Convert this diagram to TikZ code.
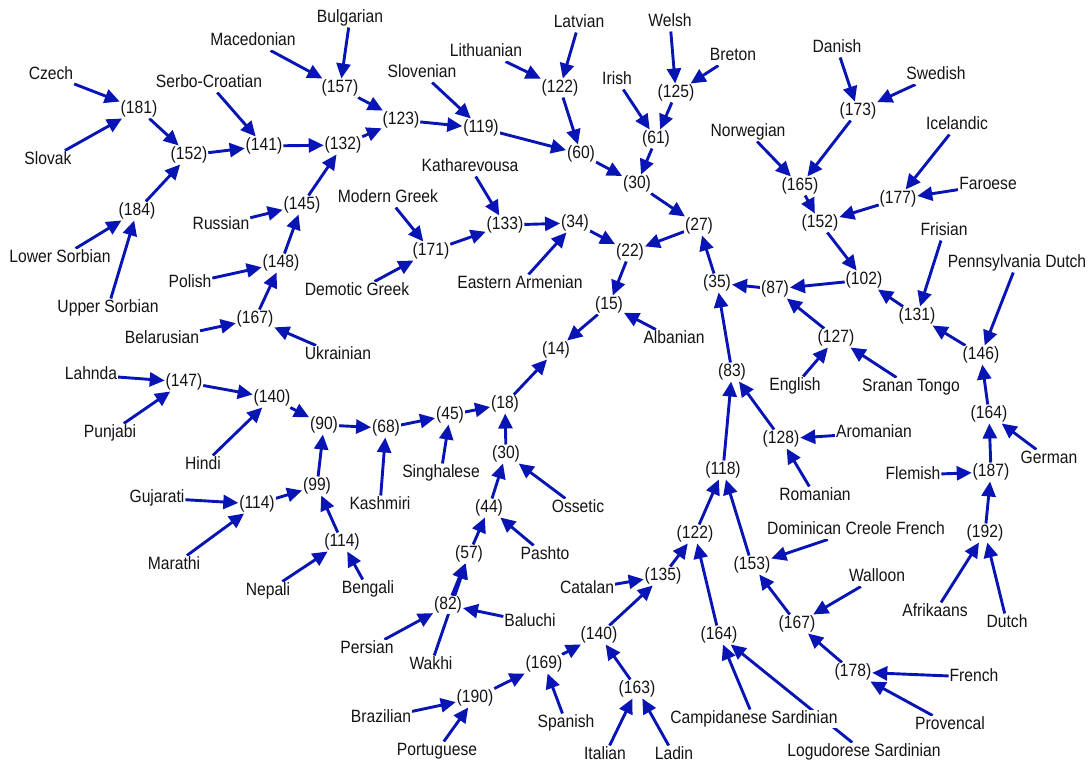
\documentclass[tikz,border=0pt]{standalone}
\usepackage{fontspec}
\setmainfont{Liberation Sans}[FakeStretch=0.88]
\usetikzlibrary{arrows.meta,backgrounds}
\definecolor{ablue}{RGB}{8,20,180}
\definecolor{ltext}{RGB}{20,20,20}
\newcommand\lblfont{\fontsize{17.8}{19}\selectfont}
\tikzset{
  lbl/.style={font=\lblfont, text=ltext, inner sep=0.8pt, fill=white, text height=13pt, text depth=4pt, yshift=-2pt},
  conn/.style={draw=ablue, line width=2.9pt, -{Triangle[length=15pt,width=14pt]}}
}
\begin{document}
\begin{tikzpicture}[x=1pt,y=-1pt]
\useasboundingbox (0,0) rectangle (1092,762);
% Slavic, Baltic, Celtic, Greek
\node[lbl] (cz) at (51,73) {Czech};
\node[lbl] (sk) at (48,158) {Slovak};
\node[lbl] (n181) at (139,107) {(181)};
\node[lbl] (n152a) at (189,153) {(152)};
\node[lbl] (n184) at (137,209) {(184)};
\node[lbl] (lso) at (60,256) {Lower Sorbian};
\node[lbl] (uso) at (108,306) {Upper Sorbian};
\node[lbl] (sc) at (209,81) {Serbo-Croatian};
\node[lbl] (n141) at (264,144) {(141)};
\node[lbl] (n132) at (343,143) {(132)};
\node[lbl] (mk) at (253,39) {Macedonian};
\node[lbl] (bg) at (350,16) {Bulgarian};
\node[lbl] (n157) at (340,86) {(157)};
\node[lbl] (n123) at (401,118) {(123)};
\node[lbl] (sl) at (422,71) {Slovenian};
\node[lbl] (n119) at (481,126) {(119)};
\node[lbl] (lt) at (486,50) {Lithuanian};
\node[lbl] (lv) at (579,21) {Latvian};
\node[lbl] (n122a) at (560,86) {(122)};
\node[lbl] (n60) at (581,152) {(60)};
\node[lbl] (ga) at (617,78) {Irish};
\node[lbl] (cy) at (670,20) {Welsh};
\node[lbl] (br) at (733,54) {Breton};
\node[lbl] (n125) at (676,91) {(125)};
\node[lbl] (n61) at (656,137) {(61)};
\node[lbl] (n30a) at (637,182) {(30)};
\node[lbl] (n27) at (699,224) {(27)};
\node[lbl] (ru) at (221,223) {Russian};
\node[lbl] (n145) at (302,203) {(145)};
\node[lbl] (pl) at (190,281) {Polish};
\node[lbl] (n148) at (281,261) {(148)};
\node[lbl] (be) at (162,337) {Belarusian};
\node[lbl] (n167a) at (255,317) {(167)};
\node[lbl] (uk) at (338,353) {Ukrainian};
\node[lbl] (mg) at (388,196) {Modern Greek};
\node[lbl] (kat) at (470,165) {Katharevousa};
\node[lbl] (n171) at (431,249) {(171)};
\node[lbl] (dg) at (357,289) {Demotic Greek};
\node[lbl] (n133) at (505,223) {(133)};
\node[lbl] (n34) at (575,221) {(34)};
\node[lbl] (ea) at (520,282) {Eastern Armenian};
\node[lbl] (n22) at (630,250) {(22)};
\node[lbl] (n15) at (609,303) {(15)};
\node[lbl] (sq) at (674,337) {Albanian};
\node[lbl] (n14) at (556,348) {(14)};
% Indo-Iranian
\node[lbl] (lah) at (91,373) {Lahnda};
\node[lbl] (n147) at (184,380) {(147)};
\node[lbl] (pa) at (110,431) {Punjabi};
\node[lbl] (n140a) at (272,396) {(140)};
\node[lbl] (hi) at (203,463) {Hindi};
\node[lbl] (n90) at (324,423) {(90)};
\node[lbl] (n99) at (317,484) {(99)};
\node[lbl] (gu) at (157,496) {Gujarati};
\node[lbl] (n114a) at (257,502) {(114)};
\node[lbl] (mr) at (174,563) {Marathi};
\node[lbl] (n114b) at (342,540) {(114)};
\node[lbl] (ne) at (268,589) {Nepali};
\node[lbl] (bn) at (368,587) {Bengali};
\node[lbl] (ks) at (380,503) {Kashmiri};
\node[lbl] (n68) at (386,426) {(68)};
\node[lbl] (n45) at (450,413) {(45)};
\node[lbl] (si) at (441,471) {Singhalese};
\node[lbl] (n18) at (505,402) {(18)};
\node[lbl] (n30b) at (506,452) {(30)};
\node[lbl] (os) at (578,506) {Ossetic};
\node[lbl] (n44) at (489,506) {(44)};
\node[lbl] (n57) at (469,552) {(57)};
\node[lbl] (ps) at (545,553) {Pashto};
\node[lbl] (n82) at (448,603) {(82)};
\node[lbl] (bal) at (530,620) {Baluchi};
\node[lbl] (fa) at (367,647) {Persian};
\node[lbl] (wa) at (431,663) {Wakhi};
% Romance
\node[lbl] (ca) at (587,587) {Catalan};
\node[lbl] (n135) at (663,574) {(135)};
\node[lbl] (n122b) at (695,532) {(122)};
\node[lbl] (n140b) at (599,633) {(140)};
\node[lbl] (n169) at (544,662) {(169)};
\node[lbl] (n190) at (475,696) {(190)};
\node[lbl] (bz) at (381,716) {Brazilian};
\node[lbl] (pt) at (437,749) {Portuguese};
\node[lbl] (es) at (566,721) {Spanish};
\node[lbl] (n163) at (637,687) {(163)};
\node[lbl] (it) at (605,753) {Italian};
\node[lbl] (lad) at (674,753) {Ladin};
\node[lbl] (n164b) at (719,633) {(164)};
\node[lbl] (cs) at (754,717) {Campidanese Sardinian};
\node[lbl] (ls) at (864,750) {Logudorese Sardinian};
\node[lbl] (n118) at (723,468) {(118)};
\node[lbl] (n83) at (732,370) {(83)};
\node[lbl] (n35) at (717,281) {(35)};
\node[lbl] (n153) at (752,563) {(153)};
\node[lbl] (dcf) at (856,528) {Dominican Creole French};
\node[lbl] (wal) at (877,575) {Walloon};
\node[lbl] (n167b) at (797,622) {(167)};
\node[lbl] (n178) at (853,670) {(178)};
\node[lbl] (fr) at (974,675) {French};
\node[lbl] (prv) at (950,723) {Provencal};
\node[lbl] (n128) at (781,437) {(128)};
\node[lbl] (aro) at (874,431) {Aromanian};
\node[lbl] (ro) at (815,494) {Romanian};
% Germanic
\node[lbl] (n87) at (775,287) {(87)};
\node[lbl] (n102) at (864,278) {(102)};
\node[lbl] (n127) at (836,336) {(127)};
\node[lbl] (en) at (795,384) {English};
\node[lbl] (srn) at (911,385) {Sranan Tongo};
\node[lbl] (n131) at (917,314) {(131)};
\node[lbl] (n146) at (981,353) {(146)};
\node[lbl] (pd) at (1017,261) {Pennsylvania Dutch};
\node[lbl] (n164c) at (989,412) {(164)};
\node[lbl] (de) at (1049,457) {German};
\node[lbl] (fl) at (913,473) {Flemish};
\node[lbl] (n187) at (991,470) {(187)};
\node[lbl] (n192) at (985,531) {(192)};
\node[lbl] (af) at (935,610) {Afrikaans};
\node[lbl] (nl) at (1007,621) {Dutch};
\node[lbl] (da) at (837,46) {Danish};
\node[lbl] (sv) at (936,73) {Swedish};
\node[lbl] (n173) at (858,109) {(173)};
\node[lbl] (no) at (748,130) {Norwegian};
\node[lbl] (is) at (957,123) {Icelandic};
\node[lbl] (n165) at (800,184) {(165)};
\node[lbl] (n177) at (898,197) {(177)};
\node[lbl] (fo) at (988,183) {Faroese};
\node[lbl] (n152b) at (820,221) {(152)};
\node[lbl] (fy) at (944,229) {Frisian};
\begin{scope}[on background layer]
% Slavic etc.
\draw[conn] (cz) -- (n181);
\draw[conn] (sk) -- (n181);
\draw[conn] (n181) -- (n152a);
\draw[conn] (n184) -- (n152a);
\draw[conn] (lso) -- (n184);
\draw[conn] (uso) -- (n184);
\draw[conn] (n152a) -- (n141);
\draw[conn] (sc) -- (n141);
\draw[conn] (n141) -- (n132);
\draw[conn] (n145) -- (n132);
\draw[conn] (mk) -- (n157);
\draw[conn] (bg) -- (n157);
\draw[conn] (n157) -- (n123);
\draw[conn] (n132) -- (n123);
\draw[conn] (n123) -- (n119);
\draw[conn] (sl) -- (n119);
\draw[conn] (n119) -- (n60);
\draw[conn] (lt) -- (n122a);
\draw[conn] (lv) -- (n122a);
\draw[conn] (n122a) -- (n60);
\draw[conn] (n60) -- (n30a);
\draw[conn] (ga) -- (n61);
\draw[conn] (cy) -- (n125);
\draw[conn] (br) -- (n125);
\draw[conn] (n125) -- (n61);
\draw[conn] (n61) -- (n30a);
\draw[conn] (n30a) -- (n27);
\draw[conn] (n27) -- (n22);
\draw[conn] (ru) -- (n145);
\draw[conn] (pl) -- (n148);
\draw[conn] (n148) -- (n145);
\draw[conn] (n167a) -- (n148);
\draw[conn] (be) -- (n167a);
\draw[conn] (uk) -- (n167a);
\draw[conn] (mg) -- (n171);
\draw[conn] (dg) -- (n171);
\draw[conn] (n171) -- (n133);
\draw[conn] (kat) -- (n133);
\draw[conn] (n133) -- (n34);
\draw[conn] (ea) -- (n34);
\draw[conn] (n34) -- (n22);
\draw[conn] (n22) -- (n15);
\draw[conn] (sq) -- (n15);
\draw[conn] (n15) -- (n14);
\draw[conn] (n18) -- (n14);
% Indo-Iranian
\draw[conn] (lah) -- (n147);
\draw[conn] (pa) -- (n147);
\draw[conn] (n147) -- (n140a);
\draw[conn] (hi) -- (n140a);
\draw[conn] (n140a) -- (n90);
\draw[conn] (n99) -- (n90);
\draw[conn] (gu) -- (n114a);
\draw[conn] (mr) -- (n114a);
\draw[conn] (n114a) -- (n99);
\draw[conn] (n114b) -- (n99);
\draw[conn] (ne) -- (n114b);
\draw[conn] (bn) -- (n114b);
\draw[conn] (n90) -- (n68);
\draw[conn] (ks) -- (n68);
\draw[conn] (n68) -- (n45);
\draw[conn] (si) -- (n45);
\draw[conn] (n45) -- (n18);
\draw[conn] (n30b) -- (n18);
\draw[conn] (n44) -- (n30b);
\draw[conn] (os) -- (n30b);
\draw[conn] (n57) -- (n44);
\draw[conn] (ps) -- (n44);
\draw[conn] (n82) -- (n57);
\draw[conn] (wa) -- (n57);
\draw[conn] (bal) -- (n82);
\draw[conn] (fa) -- (n82);
% Romance
\draw[conn] (n164b) -- (n122b);
\draw[conn] (n135) -- (n122b);
\draw[conn] (ca) -- (n135);
\draw[conn] (n140b) -- (n135);
\draw[conn] (n169) -- (n140b);
\draw[conn] (n163) -- (n140b);
\draw[conn] (it) -- (n163);
\draw[conn] (lad) -- (n163);
\draw[conn] (n190) -- (n169);
\draw[conn] (es) -- (n169);
\draw[conn] (bz) -- (n190);
\draw[conn] (pt) -- (n190);
\draw[conn] (cs) -- (n164b);
\draw[conn] (ls) -- (n164b);
\draw[conn] (n122b) -- (n118);
\draw[conn] (n153) -- (n118);
\draw[conn] (n118) -- (n83);
\draw[conn] (n128) -- (n83);
\draw[conn] (aro) -- (n128);
\draw[conn] (ro) -- (n128);
\draw[conn] (dcf) -- (n153);
\draw[conn] (n167b) -- (n153);
\draw[conn] (wal) -- (n167b);
\draw[conn] (n178) -- (n167b);
\draw[conn] (fr) -- (n178);
\draw[conn] (prv) -- (n178);
\draw[conn] (n83) -- (n35);
\draw[conn] (n87) -- (n35);
\draw[conn] (n35) -- (n27);
% Germanic
\draw[conn] (n102) -- (n87);
\draw[conn] (n127) -- (n87);
\draw[conn] (en) -- (n127);
\draw[conn] (srn) -- (n127);
\draw[conn] (n152b) -- (n102);
\draw[conn] (n131) -- (n102);
\draw[conn] (n165) -- (n152b);
\draw[conn] (n177) -- (n152b);
\draw[conn] (no) -- (n165);
\draw[conn] (n173) -- (n165);
\draw[conn] (da) -- (n173);
\draw[conn] (sv) -- (n173);
\draw[conn] (is) -- (n177);
\draw[conn] (fo) -- (n177);
\draw[conn] (fy) -- (n131);
\draw[conn] (n146) -- (n131);
\draw[conn] (pd) -- (n146);
\draw[conn] (n164c) -- (n146);
\draw[conn] (n187) -- (n164c);
\draw[conn] (de) -- (n164c);
\draw[conn] (fl) -- (n187);
\draw[conn] (n192) -- (n187);
\draw[conn] (af) -- (n192);
\draw[conn] (nl) -- (n192);
\end{scope}
\end{tikzpicture}
\end{document}
